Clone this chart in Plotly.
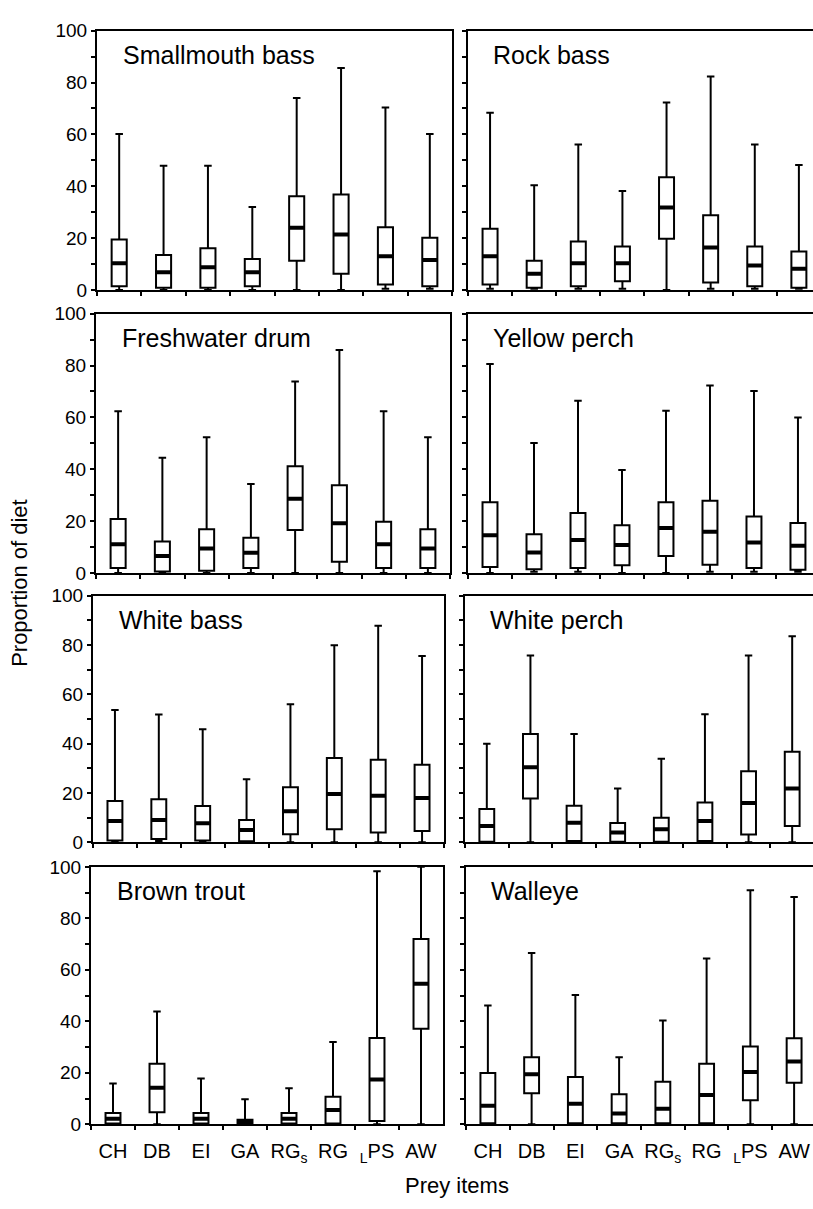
import plotly.graph_objects as go

# ---------------- data ----------------
categories = ["CH", "DB", "EI", "GA", "RG<sub>s</sub>", "RG", "<sub>L</sub>PS", "AW"]
species = ["Smallmouth bass", "Rock bass", "Freshwater drum", "Yellow perch",
           "White bass", "White perch", "Brown trout", "Walleye"]

smb_lo = [0, 0, 0, 0, 0, 0, 0.5, 0.5]
smb_q1 = [1.5, 0.9, 0.9, 1.5, 11.3, 6.3, 2.1, 1.5]
smb_med = [10.3, 6.9, 8.8, 6.9, 24.0, 21.4, 13.0, 11.6]
smb_q3 = [19.5, 13.5, 16.1, 12.0, 36.2, 36.8, 24.2, 20.2]
smb_hi = [60.2, 47.9, 47.9, 32.0, 74.0, 85.6, 70.4, 60.2]

rb_lo = [0.5, 0.5, 0.5, 0.5, 0, 0.5, 0.5, 0.5]
rb_q1 = [2.1, 0.9, 1.5, 3.4, 19.8, 2.9, 1.5, 0.9]
rb_med = [13.0, 6.3, 10.3, 10.3, 31.8, 16.4, 9.5, 8.2]
rb_q3 = [23.6, 11.3, 18.7, 16.8, 43.5, 28.8, 16.8, 14.9]
rb_hi = [68.3, 40.4, 56.1, 38.2, 72.3, 82.3, 56.1, 48.2]

fd_lo = [0, 0, 0, 0, 0, 0, 0, 0]
fd_q1 = [1.9, 0.6, 0.9, 1.9, 16.6, 4.4, 1.9, 1.9]
fd_med = [11.1, 6.6, 9.5, 7.8, 28.6, 19.2, 11.1, 9.5]
fd_q3 = [20.8, 12.2, 16.9, 13.6, 41.2, 33.8, 19.8, 16.9]
fd_hi = [62.4, 44.4, 52.3, 34.3, 73.8, 86.0, 62.4, 52.3]

yp_lo = [0, 0.5, 0.5, 0, 0, 0.5, 0.5, 0.5]
yp_q1 = [2.3, 1.5, 1.9, 3.0, 6.6, 3.2, 1.9, 1.3]
yp_med = [14.6, 7.9, 12.7, 10.8, 17.4, 15.9, 11.8, 10.5]
yp_q3 = [27.3, 15.0, 23.1, 18.4, 27.3, 27.9, 21.8, 19.3]
yp_hi = [80.6, 50.1, 66.4, 39.7, 62.6, 72.3, 70.2, 60.0]

wb_lo = [0, 0.5, 0, 0, 0, 0, 0, 0]
wb_q1 = [0.7, 1.3, 0.7, 0.4, 3.3, 5.3, 4.0, 4.6]
wb_med = [8.6, 9.0, 7.7, 5.0, 12.6, 19.6, 18.9, 18.0]
wb_q3 = [16.7, 17.4, 14.7, 9.0, 22.3, 34.2, 33.5, 31.4]
wb_hi = [53.6, 51.8, 45.8, 25.6, 56.0, 79.9, 87.8, 75.5]

wp_lo = [0, 0, 0, 0, 0, 0, 0, 0]
wp_q1 = [0.2, 17.8, 0.5, 0.2, 0.2, 0.5, 3.2, 6.6]
wp_med = [6.6, 30.4, 7.9, 4.0, 5.3, 8.6, 15.9, 21.8]
wp_q3 = [13.5, 43.9, 14.8, 7.8, 9.9, 16.1, 28.8, 36.7]
wp_hi = [40.0, 75.7, 43.9, 21.8, 33.9, 51.9, 75.7, 83.5]

bt_lo = [0, 0, 0, 0, 0, 0, 0, 0]
bt_q1 = [0.3, 4.7, 0.3, 0.1, 0.3, 0.3, 1.3, 37.1]
bt_med = [2.2, 14.2, 2.2, 0.9, 2.2, 5.6, 17.4, 54.6]
bt_q3 = [4.4, 23.5, 4.4, 1.8, 4.4, 10.7, 33.5, 72.0]
bt_hi = [15.8, 43.8, 17.8, 9.7, 14.0, 32.0, 98.3, 100.0]

wa_lo = [0, 0, 0, 0, 0, 0, 0, 0]
wa_q1 = [0.4, 12.1, 0.4, 0.4, 0.4, 0.4, 9.3, 16.1]
wa_med = [7.2, 19.4, 8.0, 4.2, 6.0, 11.4, 20.3, 24.4]
wa_q3 = [19.9, 26.0, 18.4, 11.7, 16.5, 23.5, 30.2, 33.4]
wa_hi = [46.1, 66.5, 50.2, 26.0, 40.3, 64.4, 90.9, 88.3]

panel_data = [
    (smb_lo, smb_q1, smb_med, smb_q3, smb_hi),
    (rb_lo, rb_q1, rb_med, rb_q3, rb_hi),
    (fd_lo, fd_q1, fd_med, fd_q3, fd_hi),
    (yp_lo, yp_q1, yp_med, yp_q3, yp_hi),
    (wb_lo, wb_q1, wb_med, wb_q3, wb_hi),
    (wp_lo, wp_q1, wp_med, wp_q3, wp_hi),
    (bt_lo, bt_q1, bt_med, bt_q3, bt_hi),
    (wa_lo, wa_q1, wa_med, wa_q3, wa_hi),
]

# ---------------- geometry (pixels) ----------------
W, H = 813, 1209
rows_px = [(21, 285), (309, 573), (596, 847), (872, 1134)]
left_px = [(97, 452), (96, 450), (93, 444), (91, 443)]
right_left_px = [468, 468, 465, 466]

FONT = "Liberation Sans, Arial, sans-serif"

fig = go.Figure()
layout_axes = {}
annotations = []

for i, (title, stats) in enumerate(zip(species, panel_data)):
    r, c = divmod(i, 2)
    lo, q1, med, q3, hi = stats
    xname = "x" if i == 0 else f"x{i+1}"
    yname = "y" if i == 0 else f"y{i+1}"
    xkey = "xaxis" if i == 0 else f"xaxis{i+1}"
    ykey = "yaxis" if i == 0 else f"yaxis{i+1}"

    fig.add_trace(go.Box(
        x=categories, q1=q1, median=med, q3=q3, lowerfence=lo, upperfence=hi,
        width=0.34, whiskerwidth=0.5, boxpoints=False,
        line=dict(color="black", width=2), fillcolor="white",
        xaxis=xname, yaxis=yname, showlegend=False, hoverinfo="skip"))
    # thicker median bars
    fig.add_trace(go.Box(
        x=categories, q1=med, median=med, q3=med, lowerfence=med, upperfence=med,
        width=0.34, whiskerwidth=0, boxpoints=False,
        line=dict(color="black", width=4), fillcolor="rgba(0,0,0,0)",
        xaxis=xname, yaxis=yname, showlegend=False, hoverinfo="skip"))

    top, bot = rows_px[r]
    lft, rgt = left_px[r]
    pw = rgt - lft
    if c == 0:
        xdom = [lft / W, rgt / W]
        xrange = [-0.5, 7.5]
    else:
        rl = right_left_px[r]
        xdom = [rl / W, 1.0]
        xrange = [-0.5, -0.5 + 8 * (W + 2 - rl) / pw]
    ydom = [1 - bot / H, 1 - top / H]

    layout_axes[xkey] = dict(
        domain=xdom, anchor=yname, range=xrange, type="category",
        categoryorder="array", categoryarray=categories,
        tickson="boundaries", ticks="outside", ticklen=4, tickwidth=2,
        tickcolor="black", showticklabels=(r == 3), tickangle=0,
        ticklabelstandoff=8,
        tickfont=dict(family=FONT, size=20, color="black"),
        showline=True, linewidth=2, linecolor="black", mirror=True,
        showgrid=False, zeroline=False, fixedrange=True)
    layout_axes[ykey] = dict(
        domain=ydom, anchor=xname, range=[0, 100], tickmode="linear",
        tick0=0, dtick=20, ticks="outside", ticklen=4, tickwidth=2,
        tickcolor="black", showticklabels=(c == 0),
        tickfont=dict(family=FONT, size=19, color="black"),
        minor=dict(ticks="outside", ticklen=4, tickwidth=2, tickcolor="black",
                   tickmode="linear", tick0=0, dtick=10),
        showline=True, linewidth=2, linecolor="black", mirror=(c == 0),
        showgrid=False, zeroline=False, fixedrange=True)

    tx = (lft + 24) if c == 0 else (right_left_px[r] + 23)
    annotations.append(dict(
        text=title, xref="paper", yref="paper", x=tx / W, y=1 - (top + 25) / H,
        xanchor="left", yanchor="middle", showarrow=False,
        font=dict(family=FONT, size=25, color="black")))

annotations.append(dict(
    text="Proportion of diet", xref="paper", yref="paper", x=20 / W,
    y=1 - 583 / H, textangle=-90, xanchor="center", yanchor="middle",
    showarrow=False, font=dict(family=FONT, size=22, color="black")))
annotations.append(dict(
    text="Prey items", xref="paper", yref="paper", x=457 / W, y=1 - 1196 / H,
    xanchor="center", yanchor="middle", showarrow=False,
    font=dict(family=FONT, size=22, color="black")))

fig.update_layout(
    width=W, height=H, margin=dict(l=0, r=0, t=0, b=0),
    paper_bgcolor="white", plot_bgcolor="white",
    boxmode="overlay", annotations=annotations, **layout_axes)

fig.write_html("out.html")
